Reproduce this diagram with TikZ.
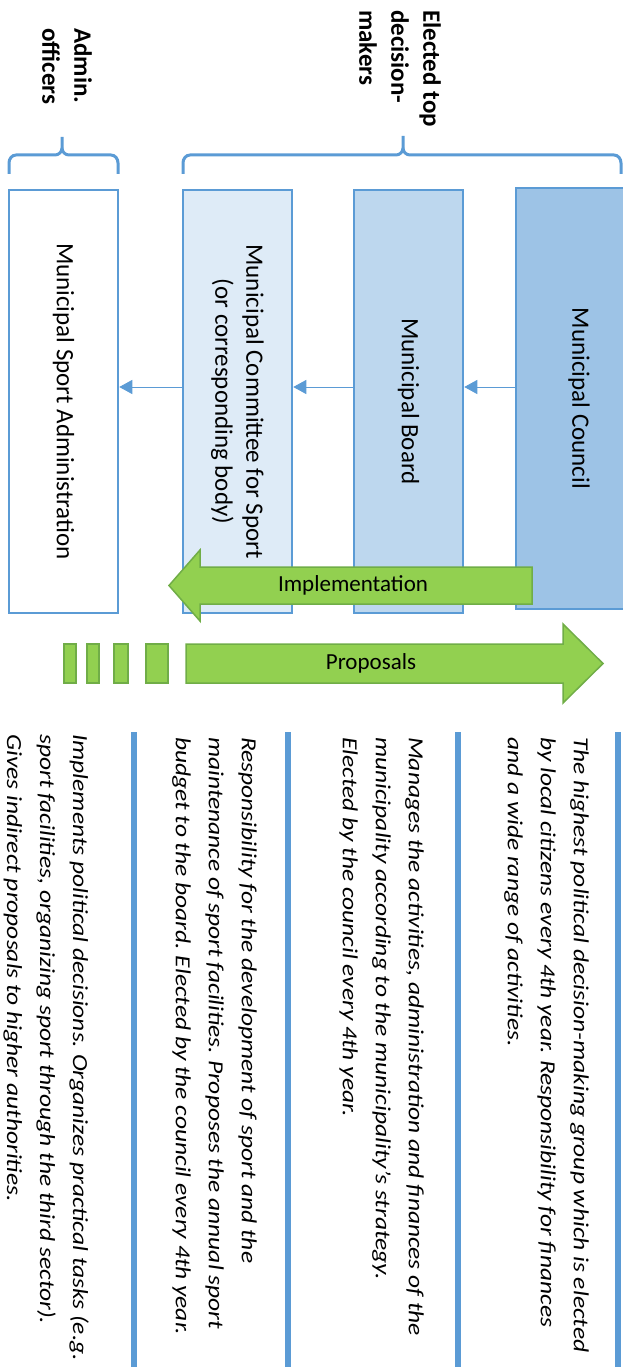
\documentclass[tikz,border=0pt]{standalone}
\usepackage{fontspec}
\setmainfont{Carlito}
\newfontfamily\descfont[FakeStretch=1.185]{Carlito}
\usetikzlibrary{arrows.meta}
\definecolor{lineblue}{HTML}{5B9BD5}
\definecolor{councilblue}{HTML}{9DC3E6}
\definecolor{boardblue}{HTML}{BDD7EE}
\definecolor{committeeblue}{HTML}{DEEBF7}
\definecolor{arrowgreen}{HTML}{92D050}
\definecolor{arrowedge}{HTML}{70AD47}
\frenchspacing

\begin{document}
\begin{tikzpicture}[x=1pt,y=-1pt,
    box/.style={draw=lineblue,line width=2.5pt,rotate=-90,minimum width=423pt,minimum height=109pt,inner sep=0pt,align=center,font=\fontsize{25}{31}\selectfont},
    link/.style={lineblue,line width=1pt,-{Triangle[length=13pt,width=14pt]}},
    brace/.style={lineblue,line width=3pt},
    bar/.style={lineblue,line width=6.5pt},
    greenshape/.style={fill=arrowgreen,draw=arrowedge,line width=1.5pt},
    arrowlabel/.style={inner sep=0pt,font=\fontsize{23}{28}\selectfont},
    head/.style={rotate=-90,anchor=north west,inner sep=0pt,align=left,font=\fontsize{25}{32}\selectfont\bfseries},
    desc/.style={rotate=-90,anchor=north west,inner sep=0pt,align=left,font=\descfont\fontsize{21.5}{33}\selectfont\itshape}]
      \useasboundingbox (0,0) rectangle (622,1367);
      \node[head] (admins) at (92,28) {Admin.\\officers};
      \node[head] (elected) at (441,10) {Elected top\\decision-\\makers};
      \draw[brace] (9,174) -- (9,163) to[out=90,in=180] (16,155) -- (55,155) to[out=0,in=-90] (62,148) -- (62,137);
      \draw[brace] (62,148) to[out=-90,in=180] (69,155) -- (111,155) to[out=0,in=90] (118,163) -- (118,174);
      \draw[brace] (183,174) -- (183,163) to[out=90,in=180] (190,155) -- (396,155) to[out=0,in=-90] (403,148) -- (403,136);
      \draw[brace] (403,148) to[out=-90,in=180] (410,155) -- (614,155) to[out=0,in=90] (621,163) -- (621,174);
      \node[box,fill=councilblue,minimum width=421pt,minimum height=126pt] (council) at (579,398.5) {Municipal Council};
      \node[box,fill=boardblue] (board) at (408.5,401.5) {Municipal Board};
      \node[box,fill=committeeblue] (committee) at (237.5,401.5) {Municipal Committee for Sport\\(or corresponding body)};
      \node[box,fill=white] (admin) at (63.5,401.5) {Municipal Sport Administration};
      \draw[link] ([yshift=11.5pt]council.south) -- ([yshift=14.5pt]board.north);
      \draw[link] ([yshift=14.5pt]board.south) -- ([yshift=14.5pt]committee.north);
      \draw[link] ([yshift=14.5pt]committee.south) -- ([yshift=14.5pt]admin.north);
      \draw[greenshape] (532,567) -- (200,567) -- (200,550) -- (169,585.5) -- (200,621) -- (200,604) -- (532,604) -- cycle;
      \node[arrowlabel] (impl) at (353,585.5) {Implementation};
      \foreach \a/\b in {64/76,87/99,114/128,146/168}
        \draw[greenshape] (\a,644) rectangle (\b,683);
      \draw[greenshape] (186,644) -- (563,644) -- (563,624) -- (603,663.5) -- (563,703) -- (563,683) -- (186,683) -- cycle;
      \node[arrowlabel] (prop) at (371,663.5) {Proposals};
      \foreach \x in {134,288,458,618}
        \draw[bar] (\x,732) -- (\x,1367);
      \node[desc] (councilDesc) at (589,737) {The highest political decision-making group which is elected\\by local citizens every 4th year. Responsibility for finances\\and a wide range of activities.};
      \node[desc] (boardDesc) at (424,737) {Manages the activities, administration and finances of the\\municipality according to the municipality’s strategy.\\Elected by the council every 4th year.};
      \node[desc] (committeeDesc) at (257,737) {Responsibility for the development of sport and the\\maintenance of sport facilities. Proposes the annual sport\\budget to the board. Elected by the council every 4th year.};
      \node[desc] (adminDesc) at (89,734) {Implements political decisions. Organizes practical tasks (e.g.\\sport facilities, organizing sport through the third sector).\\Gives indirect proposals to higher authorities.};
\end{tikzpicture}
\end{document}
